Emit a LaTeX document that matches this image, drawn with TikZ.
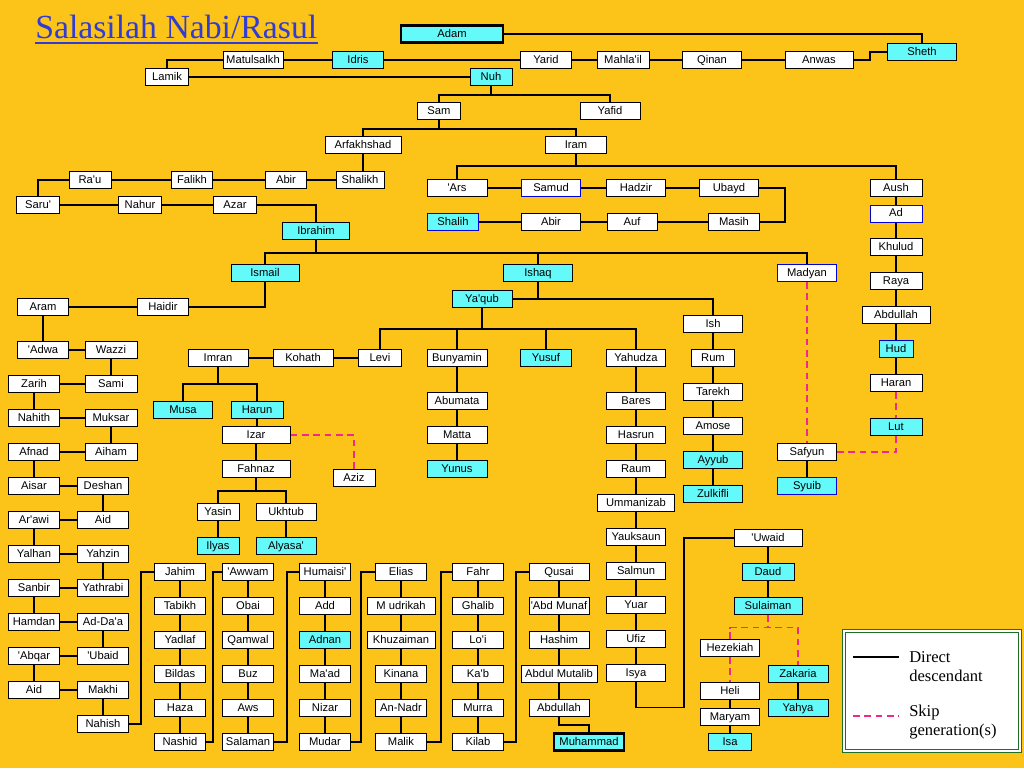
\documentclass[tikz,border=0pt]{standalone}
\usepackage{fontspec}
\setmainfont{Liberation Serif}
\newfontfamily\boxfont{Liberation Sans}
\usetikzlibrary{positioning, calc}
\definecolor{bgyellow}{RGB}{252,196,24}
\definecolor{nabicyan}{RGB}{100,250,250}
\definecolor{titleblue}{RGB}{50,60,210}
\definecolor{skippink}{RGB}{240,40,140}
\definecolor{legendgreen}{RGB}{30,110,40}
\newcommand{\apos}{\textquotesingle}

\begin{document}
\begin{tikzpicture}[x=0.75pt, y=-0.75pt,
  node distance=12pt,
  person/.style={rectangle, draw=black, line width=0.75pt, fill=white, inner sep=0pt,
                 minimum width=38.25pt, minimum height=12.75pt, text height=6.3pt, text depth=1.2pt,
                 font=\boxfont\fontsize{8.4}{10}\selectfont},
  wd/.style={minimum width=#1*0.75pt},
  nabi/.style={person, fill=nabicyan},
  blu/.style={draw=blue!85!black},
  keyfig/.style={line width=1.6pt},
  link/.style={line width=1.1pt, black},
  skip/.style={line width=1.1pt, skippink, dash pattern=on 5pt off 3.5pt},
  legtext/.style={anchor=west, align=left, inner sep=0pt, font=\fontsize{12.4}{14.3}\selectfont},
]
\fill[bgyellow] (0,0) rectangle (1024,768);
\useasboundingbox (0,0) rectangle (1024,768);
% --- title ---
\node[anchor=base west, inner sep=0pt, text=titleblue, font=\fontsize{25.3}{30}\selectfont] (title) at (35,38) {Salasilah Nabi/Rasul};
\draw[titleblue, line width=1.5pt] ($(title.base west)+(0,4.5)$) -- ($(title.base east)+(0,4.5)$);
% --- Adam to Nuh ---
\node[nabi, keyfig, wd=102] (adam) at (452,34) {Adam};
\node[nabi, wd=69] (sheth) at (922,52) {Sheth};
\node[person, wd=68] (anwas) at (819,60) {Anwas};
\node[person, wd=59] (qinan) at (712,60) {Qinan};
\node[person, wd=52] (mahlail) at (623,60) {Mahla\apos il};
\node[person] (yarid) at (546,60) {Yarid};
\node[nabi] (idris) at (358,60) {Idris};
\node[person, wd=60] (matulsalkh) at (253,60) {Matulsalkh};
\node[person, wd=43] (lamik) at (167,77) {Lamik};
\node[nabi, wd=42] (nuh) at (491,77) {Nuh};
% --- Nuh to Ibrahim ---
\node[person, wd=43] (sam) at (439,111) {Sam};
\node[person, wd=60] (yafid) at (610,111) {Yafid};
\node[person, wd=76] (arfakhshad) at (363,145) {Arfakhshad};
\node[person, wd=61] (iram) at (576,145) {Iram};
\node[person, wd=48] (shalikh) at (360,180) {Shalikh};
\node[person, wd=41] (abirA) at (286,180) {Abir};
\node[person, wd=41] (falikh) at (192,180) {Falikh};
\node[person, wd=42] (rau) at (90,180) {Ra\apos u};
\node[person, wd=43] (saru) at (38,205) {Saru\apos};
\node[person, wd=43] (nahur) at (140,205) {Nahur};
\node[person, wd=43] (azar) at (235,205) {Azar};
\node[nabi, wd=67] (ibrahim) at (316,231) {Ibrahim};
% --- Iram's line ---
\node[person, wd=60] (ars) at (457,188) {\apos Ars};
\node[person, blu, wd=59] (samud) at (551,188) {Samud};
\node[person, wd=59] (hadzir) at (636,188) {Hadzir};
\node[person, wd=59] (ubayd) at (729,188) {Ubayd};
\node[person] (masih) at (734,222) {Masih};
\node[person, wd=50] (auf) at (632,222) {Auf};
\node[person, wd=59] (abirB) at (551,222) {Abir};
\node[nabi, blu] (shalih) at (453,222) {Shalih};
\node[person, wd=52] (aush) at (896,188) {Aush};
\node[person, blu, wd=52] (ad) at (896,213.5) {Ad};
\node[person, wd=52] (khulud) at (896,247) {Khulud};
\node[person, wd=52, below=of khulud] (raya) {Raya};
\node[person, wd=68, below=of raya] (abdullahA) {Abdullah};
\node[nabi, blu, wd=34, below=of abdullahA] (hud) {Hud};
\node[person, wd=52, below=of hud] (haran) {Haran};
\node[nabi, wd=52] (lut) at (896,427) {Lut};
% --- Ibrahim's sons ---
\node[nabi, wd=68] (ismail) at (265,273) {Ismail};
\node[nabi, wd=69] (ishaq) at (538,273) {Ishaq};
\node[person, blu, wd=59] (madyan) at (807,273) {Madyan};
\node[person, wd=59] (safyun) at (807,452) {Safyun};
\node[nabi, blu, wd=59, below=of safyun] (syuib) {Syuib};
% --- Ismail's line, left columns ---
\node[person] (haidir) at (163,307) {Haidir};
\node[person] (aram) at (43,307) {Aram};
\node[person] (adwa) at (43,350) {\apos Adwa};
\node[person, wd=52] (wazzi) at (111,350) {Wazzi};
\node[person, wd=52, below=of wazzi] (sami) {Sami};
\node[person, wd=52, below=of sami] (muksar) {Muksar};
\node[person, wd=52, below=of muksar] (aiham) {Aiham};
\node[person] (zarih) at (34,384) {Zarih};
\node[person, below=of zarih] (nahith) {Nahith};
\node[person, below=of nahith] (afnad) {Afnad};
\node[person, below=of afnad] (aisar) {Aisar};
\node[person, below=of aisar] (arawi) {Ar\apos awi};
\node[person, below=of arawi] (yalhan) {Yalhan};
\node[person, below=of yalhan] (sanbir) {Sanbir};
\node[person, below=of sanbir] (hamdan) {Hamdan};
\node[person, below=of hamdan] (abqar) {\apos Abqar};
\node[person, below=of abqar] (aidB) {Aid};
\node[person] (deshan) at (103,486) {Deshan};
\node[person, below=of deshan] (aidA) {Aid};
\node[person, below=of aidA] (yahzin) {Yahzin};
\node[person, below=of yahzin] (yathrabi) {Yathrabi};
\node[person, below=of yathrabi] (adaa) {Ad-Da\apos a};
\node[person, below=of adaa] (ubaid) {\apos Ubaid};
\node[person, below=of ubaid] (makhi) {Makhi};
\node[person, below=of makhi] (nahish) {Nahish};
% --- Adnan to Muhammad ---
\node[person] (jahim) at (180,572) {Jahim};
\node[person, below=of jahim] (tabikh) {Tabikh};
\node[person, below=of tabikh] (yadlaf) {Yadlaf};
\node[person, below=of yadlaf] (bildas) {Bildas};
\node[person, below=of bildas] (haza) {Haza};
\node[person, below=of haza] (nashid) {Nashid};
\node[person] (awwam) at (248,572) {\apos Awwam};
\node[person, below=of awwam] (obai) {Obai};
\node[person, below=of obai] (qamwal) {Qamwal};
\node[person, below=of qamwal] (buz) {Buz};
\node[person, below=of buz] (aws) {Aws};
\node[person, below=of aws] (salaman) {Salaman};
\node[person] (humaisi) at (325,572) {Humaisi\apos};
\node[person, below=of humaisi] (add) {Add};
\node[nabi, below=of add] (adnan) {Adnan};
\node[person, below=of adnan] (maad) {Ma\apos ad};
\node[person, below=of maad] (nizar) {Nizar};
\node[person, below=of nizar] (mudar) {Mudar};
\node[person] (elias) at (401,572) {Elias};
\node[person, wd=68, below=of elias] (mudrikah) {M udrikah};
\node[person, wd=68, below=of mudrikah] (khuzaiman) {Khuzaiman};
\node[person, below=of khuzaiman] (kinana) {Kinana};
\node[person, below=of kinana] (annadr) {An-Nadr};
\node[person, below=of annadr] (malik) {Malik};
\node[person] (fahr) at (478,572) {Fahr};
\node[person, below=of fahr] (ghalib) {Ghalib};
\node[person, below=of ghalib] (loi) {Lo\apos i};
\node[person, below=of loi] (kab) {Ka\apos b};
\node[person, below=of kab] (murra) {Murra};
\node[person, below=of murra] (kilab) {Kilab};
\node[person, wd=60] (qusai) at (559,572) {Qusai};
\node[person, wd=60, below=of qusai] (abdmunaf) {\apos Abd Munaf};
\node[person, wd=60, below=of abdmunaf] (hashim) {Hashim};
\node[person, wd=76, below=of hashim] (abdulmutalib) {Abdul Mutalib};
\node[person, wd=60, below=of abdulmutalib] (abdullahB) {Abdullah};
\node[nabi, keyfig, wd=70] (muhammad) at (589,742) {Muhammad};
% --- Ishaq's line ---
\node[nabi, wd=60] (yaqub) at (482,299) {Ya\apos qub};
\node[person, wd=59] (ish) at (713,324) {Ish};
\node[person, wd=43, below=of ish] (rum) {Rum};
\node[person, wd=59, below=of rum] (tarekh) {Tarekh};
\node[person, wd=59, below=of tarekh] (amose) {Amose};
\node[nabi, wd=59, below=of amose] (ayyub) {Ayyub};
\node[nabi, wd=59, below=of ayyub] (zulkifli) {Zulkifli};
\node[person, wd=43] (levi) at (380,358) {Levi};
\node[person, wd=60] (kohath) at (303,358) {Kohath};
\node[person, wd=60] (imran) at (218,358) {Imran};
\node[person, wd=60] (bunyamin) at (457,358) {Bunyamin};
\node[nabi] (yusuf) at (546,358) {Yusuf};
\node[person, wd=59] (yahudza) at (636,358) {Yahudza};
\node[person, wd=60] (abumata) at (457,401) {Abumata};
\node[person, wd=60, below=of abumata] (matta) {Matta};
\node[nabi, wd=60, below=of matta] (yunus) {Yunus};
\node[person, wd=59] (bares) at (636,401) {Bares};
\node[person, wd=59, below=of bares] (hasrun) {Hasrun};
\node[person, wd=59, below=of hasrun] (raum) {Raum};
\node[person, wd=77, below=of raum] (ummanizab) {Ummanizab};
\node[person, wd=59, below=of ummanizab] (yauksaun) {Yauksaun};
\node[person, wd=59, below=of yauksaun] (salmun) {Salmun};
\node[person, wd=59, below=of salmun] (yuar) {Yuar};
\node[person, wd=59, below=of yuar] (ufiz) {Ufiz};
\node[person, wd=59, below=of ufiz] (isya) {Isya};
% --- Musa, Harun ---
\node[nabi, wd=59] (musa) at (183,410) {Musa};
\node[nabi, wd=52] (harun) at (257,410) {Harun};
\node[person, wd=68] (izar) at (256,435) {Izar};
\node[person, wd=68, below=of izar] (fahnaz) {Fahnaz};
\node[person, wd=42] (aziz) at (354,478) {Aziz};
\node[person, wd=42] (yasin) at (218,512) {Yasin};
\node[person, wd=60] (ukhtub) at (286,512) {Ukhtub};
\node[nabi, wd=42, below=of yasin] (ilyas) {Ilyas};
\node[nabi, wd=60, below=of ukhtub] (alyasa) {Alyasa\apos};
% --- Daud to Isa ---
\node[person, wd=68] (uwaid) at (768,538) {\apos Uwaid};
\node[nabi, wd=52, below=of uwaid] (daud) {Daud};
\node[nabi, wd=68, below=of daud] (sulaiman) {Sulaiman};
\node[person, wd=59] (hezekiah) at (730,648) {Hezekiah};
\node[person, wd=59] (heli) at (730,691) {Heli};
\node[person, wd=59] (maryam) at (730,717) {Maryam};
\node[nabi, wd=43] (isa) at (730,742) {Isa};
\node[nabi, wd=60] (zakaria) at (798,674) {Zakaria};
\node[nabi, wd=60, below=of zakaria] (yahya) {Yahya};
% --- legend ---
\node[draw=legendgreen, fill=white, line width=0.6pt, double=white, double distance=1.4pt,
      minimum width=132pt, minimum height=90pt, inner sep=0pt] (legend) at (932,691) {};
\draw[link] (853,657) -- (899,657);
\draw[skip] (853,716) -- (899,716);
\node[legtext] (ldirect) at (909,667) {Direct\\descendant};
\node[legtext] (lskip) at (909,722) {Skip\\generation(s)};

% --- connectors: Adam to Ibrahim ---
\draw[link] (adam.east) -| (sheth.north);
\draw[link] (sheth.west) -- ++(-17,0) |- (anwas.east);
\draw[link] (anwas) -- (qinan) -- (mahlail) -- (yarid) -- (idris) -- (matulsalkh);
\draw[link] (matulsalkh.west) -| (lamik.north);
\draw[link] (lamik) -- (nuh);
\draw[link] (nuh.south) -- ++(0,9) coordinate (nuhfork);
\draw[link] (sam.north) |- (nuhfork) -| (yafid.north);
\draw[link] (sam.south) -- ++(0,9) coordinate (samfork);
\draw[link] (arfakhshad.north) |- (samfork) -| (iram.north);
\draw[link] (arfakhshad.south) -- (arfakhshad.south |- shalikh.north);
\draw[link] (shalikh) -- (abirA) -- (falikh) -- (rau);
\draw[link] (rau.west) -| (saru.north);
\draw[link] (saru) -- (nahur) -- (azar);
\draw[link] (azar.east) -| (ibrahim.north);
% Iram
\draw[link] (iram.south) -- ++(0,12) coordinate (iramfork);
\draw[link] (ars.north) |- (iramfork) -| (aush.north);
\draw[link] (ars) -- (samud) -- (hadzir) -- (ubayd);
\draw[link] (ubayd.east) -- ++(26,0) |- (masih.east);
\draw[link] (masih) -- (auf) -- (abirB) -- (shalih);
\draw[link] (aush) -- (ad) -- (khulud) -- (raya) -- (abdullahA) -- (hud) -- (haran);
\draw[skip] (haran) -- (lut);
% Ibrahim
\draw[link] (ibrahim.south) -- ++(0,13) coordinate (ibrahimfork);
\draw[link] (ismail.north) |- (ibrahimfork) -| (madyan.north);
\draw[link] (ishaq.north) -- (ishaq.north |- ibrahimfork);
\draw[skip] (madyan) -- (safyun);
\draw[skip] (safyun.east) -| (lut.south);
\draw[link] (safyun) -- (syuib);
% Ismail to Muhammad
\draw[link] (ismail.south) |- (haidir.east);
\draw[link] (haidir) -- (aram) -- (adwa) -- (wazzi) -- (sami) -- (zarih) -- (nahith) -- (muksar)
  -- (aiham) -- (afnad) -- (aisar) -- (deshan) -- (aidA) -- (arawi) -- (yalhan) -- (yahzin)
  -- (yathrabi) -- (sanbir) -- (hamdan) -- (adaa) -- (ubaid) -- (abqar) -- (aidB) -- (makhi) -- (nahish);
\draw[link] (nahish.east) -- ++(12,0) |- (jahim.west);
\draw[link] (jahim) -- (tabikh) -- (yadlaf) -- (bildas) -- (haza) -- (nashid);
\draw[link] (nashid.east) -- ++(7,0) |- (awwam.west);
\draw[link] (awwam) -- (obai) -- (qamwal) -- (buz) -- (aws) -- (salaman);
\draw[link] (salaman.east) -- ++(13,0) |- (humaisi.west);
\draw[link] (humaisi) -- (add) -- (adnan) -- (maad) -- (nizar) -- (mudar);
\draw[link] (mudar.east) -- ++(10,0) |- (elias.west);
\draw[link] (elias) -- (mudrikah) -- (khuzaiman) -- (kinana) -- (annadr) -- (malik);
\draw[link] (malik.east) -- ++(14,0) |- (fahr.west);
\draw[link] (fahr) -- (ghalib) -- (loi) -- (kab) -- (murra) -- (kilab);
\draw[link] (kilab.east) -- ++(12,0) |- (qusai.west);
\draw[link] (qusai) -- (abdmunaf) -- (hashim) -- (abdulmutalib) -- (abdullahB);
\draw[link] (abdullahB.south) -- ++(0,8) -| (muhammad.north);
% Ishaq
\draw[link] (ishaq.south) -- (ishaq.south |- yaqub.east);
\draw[link] (yaqub.east) -| (ish.north);
\draw[link] (ish) -- (rum) -- (tarekh) -- (amose) -- (ayyub) -- (zulkifli);
\draw[link] (yaqub.south) -- ++(0,21) coordinate (yaqubfork);
\draw[link] (levi.north) |- (yaqubfork) -| (yahudza.north);
\draw[link] (bunyamin.north) -- (bunyamin.north |- yaqubfork);
\draw[link] (yusuf.north) -- (yusuf.north |- yaqubfork);
\draw[link] (levi) -- (kohath) -- (imran);
\draw[link] (imran.south) -- ++(0,17) coordinate (imranfork);
\draw[link] (musa.north) |- (imranfork) -| (harun.north);
\draw[link] (harun.south) -- (harun.south |- izar.north);
\draw[link] (izar) -- (fahnaz);
\draw[skip] (izar.east) -| (aziz.north);
\draw[link] (fahnaz.south) -- ++(0,13) coordinate (fahnazfork);
\draw[link] (yasin.north) |- (fahnazfork) -| (ukhtub.north);
\draw[link] (yasin) -- (ilyas);
\draw[link] (ukhtub) -- (alyasa);
\draw[link] (bunyamin) -- (abumata) -- (matta) -- (yunus);
\draw[link] (yahudza) -- (bares) -- (hasrun) -- (raum) -- (ummanizab) -- (yauksaun) -- (salmun)
  -- (yuar) -- (ufiz) -- (isya);
\draw[link] (isya.south) |- ++(48,25.5) |- (uwaid.west);
\draw[link] (uwaid) -- (daud) -- (sulaiman);
\draw[skip] (sulaiman.south) -- ++(0,12.5) coordinate (sulaimanfork);
\draw[skip] (hezekiah.north) |- (sulaimanfork) -| (zakaria.north);
\draw[skip] (hezekiah) -- (heli);
\draw[link] (heli) -- (maryam) -- (isa);
\draw[link] (zakaria) -- (yahya);
\end{tikzpicture}
\end{document}
